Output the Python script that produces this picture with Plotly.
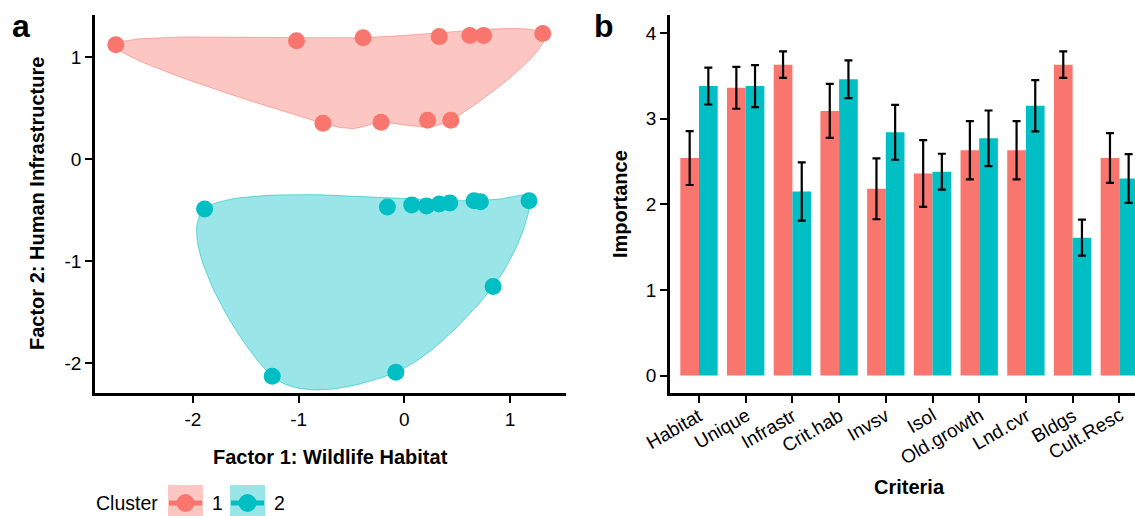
import numpy as np
import plotly.graph_objects as go

# ---- Panel a: factor scores of each respondent, by cluster ----
cluster1_f1 = [-2.73, -1.02, -0.39, 0.33, 0.62, 0.75, 1.31, -0.77, -0.22, 0.22, 0.44]
cluster1_f2 = [1.12, 1.16, 1.19, 1.20, 1.21, 1.21, 1.23, 0.35, 0.36, 0.38, 0.38]
cluster2_f1 = [-1.89, -0.16, 0.07, 0.21, 0.33, 0.43, 0.66, 0.72, 1.18, 0.84, -1.25, -0.08]
cluster2_f2 = [-0.49, -0.47, -0.45, -0.46, -0.44, -0.43, -0.41, -0.42, -0.41, -1.25, -2.13, -2.09]

cluster_names = ["1", "2"]
factor_ticks = [-2, -1, 0, 1]
factor_ticktext = ["-2", "-1", "0", "1"]

# ---- Panel b: mean importance (+/- SE) of each criterion, by cluster ----
criteria = ["Habitat", "Unique", "Infrastr", "Crit.hab", "Invsv", "Isol",
            "Old.growth", "Lnd.cvr", "Bldgs", "Cult.Resc"]
importance_c1 = [2.54, 3.36, 3.63, 3.09, 2.18, 2.36, 2.63, 2.63, 3.63, 2.54]
se_c1 = [0.315, 0.245, 0.155, 0.315, 0.355, 0.39, 0.34, 0.34, 0.155, 0.29]
importance_c2 = [3.38, 3.38, 2.15, 3.46, 2.84, 2.38, 2.77, 3.15, 1.61, 2.30]
se_c2 = [0.215, 0.245, 0.34, 0.22, 0.32, 0.21, 0.325, 0.30, 0.21, 0.285]
importance_ticks = [0, 1, 2, 3, 4]

# ---- styling ----
W, H = 1135, 516
RED, CYAN = "#F8766D", "#00BFC4"
RED_FILL, CYAN_FILL = "rgba(248,118,109,0.42)", "rgba(0,191,196,0.40)"
RED_EDGE, CYAN_EDGE = "rgba(248,118,109,0.55)", "rgba(0,191,196,0.55)"
FONT = "Liberation Sans, Arial, sans-serif"
TICK_FONT = dict(family=FONT, size=19, color="black")
TITLE_FONT = dict(family=FONT, size=20, color="black")


def px_x(p):
    return p / W


def px_y(p):
    return 1 - p / H


def smooth_hull(xs, ys, sx, sy, n=30, tension=0.47):
    """Convex hull of the points, smoothed with a closed Catmull-Rom spline."""
    pts = sorted(set(zip(np.asarray(xs, float) * sx, np.asarray(ys, float) * sy)))

    def cross(o, a, b):
        return (a[0] - o[0]) * (b[1] - o[1]) - (a[1] - o[1]) * (b[0] - o[0])

    lower, upper = [], []
    for p in pts:
        while len(lower) >= 2 and cross(lower[-2], lower[-1], p) <= 0:
            lower.pop()
        lower.append(p)
    for p in reversed(pts):
        while len(upper) >= 2 and cross(upper[-2], upper[-1], p) <= 0:
            upper.pop()
        upper.append(p)
    hull = np.array(lower[:-1] + upper[:-1])
    m = len(hull)
    out = []
    for i in range(m):
        p0, p1, p2, p3 = hull[(i - 1) % m], hull[i], hull[(i + 1) % m], hull[(i + 2) % m]
        m1 = (p2 - p0) * tension
        m2 = (p3 - p1) * tension
        for t in np.linspace(0, 1, n, endpoint=False):
            h00 = 2 * t**3 - 3 * t**2 + 1
            h10 = t**3 - 2 * t**2 + t
            h01 = -2 * t**3 + 3 * t**2
            h11 = t**3 - t**2
            out.append(h00 * p1 + h10 * m1 + h01 * p2 + h11 * m2)
    out.append(out[0])
    out = np.array(out)
    return out[:, 0] / sx, out[:, 1] / sy


# panel geometry (pixels)
A_LEFT, A_RIGHT = 95, 566
B_LEFT, B_RIGHT = 670, 1135
P_TOP, P_BOTTOM = 15, 393

x1_range = [-2.927, 1.530]
y1_range = [-2.294, 1.412]
x2_range = [-0.621, 9.336]
y2_range = [-0.204, 4.21]

# pixels per data unit on panel a, used to smooth the hull in screen space
sx = (A_RIGHT - A_LEFT) / (x1_range[1] - x1_range[0])
sy = (P_BOTTOM - P_TOP) / (y1_range[1] - y1_range[0])

fig = go.Figure()

for f1, f2, fill, edge in [(cluster1_f1, cluster1_f2, RED_FILL, RED_EDGE),
                           (cluster2_f1, cluster2_f2, CYAN_FILL, CYAN_EDGE)]:
    hx, hy = smooth_hull(f1, f2, sx, sy)
    fig.add_trace(go.Scatter(x=hx, y=hy, mode="lines", fill="toself",
                             fillcolor=fill, line=dict(color=edge, width=1),
                             hoverinfo="skip", showlegend=False,
                             xaxis="x", yaxis="y"))

for f1, f2, col, name in [(cluster1_f1, cluster1_f2, RED, cluster_names[0]),
                          (cluster2_f1, cluster2_f2, CYAN, cluster_names[1])]:
    fig.add_trace(go.Scatter(x=f1, y=f2, mode="markers", name=name,
                             marker=dict(color=col, size=17, line=dict(width=0)),
                             showlegend=False, xaxis="x", yaxis="y"))

for vals, se, col, name in [(importance_c1, se_c1, RED, cluster_names[0]),
                            (importance_c2, se_c2, CYAN, cluster_names[1])]:
    fig.add_trace(go.Bar(x=criteria, y=vals, name=name, marker=dict(color=col, line=dict(width=0)),
                         error_y=dict(type="data", array=se, visible=True, color="black",
                                      thickness=2.2, width=4),
                         showlegend=False, xaxis="x2", yaxis="y2"))

axis_common = dict(showline=True, linecolor="black", linewidth=2.5, ticks="outside",
                   ticklen=7, tickwidth=2, tickcolor="black", showgrid=False,
                   zeroline=False, tickfont=TICK_FONT, fixedrange=True)

fig.update_layout(
    width=W, height=H,
    margin=dict(l=0, r=0, t=0, b=0, autoexpand=False),
    paper_bgcolor="white", plot_bgcolor="white",
    showlegend=False,
    barmode="group", bargap=0.2, bargroupgap=0,
    xaxis=dict(domain=[px_x(A_LEFT), px_x(A_RIGHT)], range=x1_range, anchor="y",
               tickvals=factor_ticks, ticktext=factor_ticktext, **axis_common),
    yaxis=dict(domain=[px_y(P_BOTTOM), px_y(P_TOP)], range=y1_range, anchor="x",
               tickvals=factor_ticks, ticktext=factor_ticktext, **axis_common),
    xaxis2=dict(domain=[px_x(B_LEFT), px_x(B_RIGHT)], range=x2_range, anchor="y2",
                type="category", showticklabels=False, **axis_common),
    yaxis2=dict(domain=[px_y(P_BOTTOM), px_y(P_TOP)], range=y2_range, anchor="x2",
                tickvals=importance_ticks, **axis_common),
)

annotations = [
    dict(text="<b>a</b>", x=px_x(10), y=px_y(26), xanchor="left", yanchor="middle",
         font=dict(family=FONT, size=32, color="black")),
    dict(text="<b>b</b>", x=px_x(592), y=px_y(26), xanchor="left", yanchor="middle",
         font=dict(family=FONT, size=32, color="black")),
    dict(text="<b>Factor 2: Human Infrastructure</b>", x=px_x(37), y=px_y(204),
         textangle=-90, xanchor="center", yanchor="middle", font=TITLE_FONT),
    dict(text="<b>Factor 1: Wildlife Habitat</b>", x=px_x(330), y=px_y(457),
         xanchor="center", yanchor="middle", font=TITLE_FONT),
    dict(text="<b>Importance</b>", x=px_x(620), y=px_y(204),
         textangle=-90, xanchor="center", yanchor="middle", font=TITLE_FONT),
    dict(text="<b>Criteria</b>", x=px_x(909), y=px_y(487),
         xanchor="center", yanchor="middle", font=TITLE_FONT),
    dict(text="Cluster", x=px_x(94), y=px_y(503), xanchor="left", yanchor="middle",
         font=dict(family=FONT, size=19.5, color="black")),
]
for a in annotations:
    a.update(xref="paper", yref="paper")

# rotated category labels, right/top aligned just under each tick
for cat in criteria:
    annotations.append(dict(text=cat, x=cat, xref="x2", y=px_y(403), yref="paper",
                            xanchor="right", yanchor="top", textangle=-30, xshift=9,
                            borderpad=0, font=TICK_FONT))

# legend keys drawn by hand: shaded key box, line stub and point
shapes = []
for (left, col, fill, name) in [(168, RED, RED_FILL, cluster_names[0]),
                                (230, CYAN, CYAN_FILL, cluster_names[1])]:
    cx, cy = left + 17.5, 503
    shapes.append(dict(type="rect", xref="paper", yref="paper",
                       x0=px_x(left), x1=px_x(left + 35), y0=px_y(485), y1=px_y(521),
                       fillcolor=fill, line=dict(width=0), layer="below"))
    shapes.append(dict(type="line", xref="paper", yref="paper",
                       x0=px_x(left + 1), x1=px_x(left + 34), y0=px_y(cy), y1=px_y(cy),
                       line=dict(color=col, width=5)))
    shapes.append(dict(type="circle", xref="paper", yref="paper",
                       x0=px_x(cx - 9), x1=px_x(cx + 9), y0=px_y(cy + 9), y1=px_y(cy - 9),
                       fillcolor=col, line=dict(width=0)))
    annotations.append(dict(text=name, x=px_x(left + 49), y=px_y(503), xref="paper",
                            yref="paper", xanchor="center", yanchor="middle",
                            font=dict(family=FONT, size=19.5, color="black")))

for a in annotations:
    a.update(showarrow=False)

fig.update_layout(annotations=annotations, shapes=shapes)

fig.write_html("out.html")
